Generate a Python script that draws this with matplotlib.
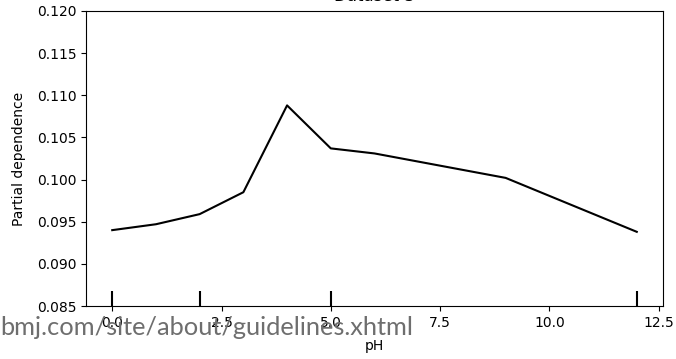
import matplotlib
matplotlib.use("Agg")
import matplotlib.pyplot as plt
import matplotlib.transforms as mtransforms


# partial dependence of the model output on pH
phGrid = [0, 1, 2, 3, 4, 5, 6, 9, 12]
partialDep = [0.0940, 0.0947, 0.0959, 0.0985, 0.1088, 0.1037, 0.1031, 0.1002, 0.0938]

# deciles of pH in the training data (rug marks)
phDeciles = [0, 2, 5, 12]

xTicks = [0.0, 2.5, 5.0, 7.5, 10.0, 12.5]
yTicks = [0.085, 0.090, 0.095, 0.100, 0.105, 0.110, 0.115, 0.120]

sourceNote = "bmj.com/site/about/guidelines.xhtml"


fig = plt.figure(figsize = (6.76, 3.59), dpi = 100, facecolor = "white")
ax = fig.add_axes([86 / 676, 1 - 306 / 359, (663 - 86) / 676, (306 - 11) / 359])

ax.plot(phGrid, partialDep, color = "black", linewidth = 1.5)

# decile rug along the bottom of the axes
rugTrans = mtransforms.blended_transform_factory(ax.transData, ax.transAxes)
ax.vlines(phDeciles, 0, 0.05, transform = rugTrans, color = "black", linewidth = 1.5)

ax.set_xlim(-0.6, 12.6)
ax.set_ylim(0.085, 0.120)
ax.set_xticks(xTicks)
ax.set_yticks(yTicks)
ax.set_xticklabels([f"{t:.1f}" for t in xTicks])
ax.set_yticklabels([f"{t:.3f}" for t in yTicks])
ax.tick_params(labelsize = 10)

ax.set_xlabel("pH", fontsize = 10, labelpad = 7)
ax.set_ylabel("Partial dependence", fontsize = 10, labelpad = 8)
ax.set_title("Dataset 3", fontsize = 12, pad = 7.5)

# grey source note laid over the bottom of the figure, sized to span ~415 px
note = fig.text(0.0, 1 - 335 / 359, sourceNote, ha = "left", va = "baseline",
                fontsize = 20, fontfamily = "Lato", color = "#6e6e6e")
fig.canvas.draw()
noteWidth = note.get_window_extent().width
note.set_fontsize(20 * 415 / noteWidth)

fig.savefig("out.png", dpi = 100, facecolor = "white")
plt.close(fig)
